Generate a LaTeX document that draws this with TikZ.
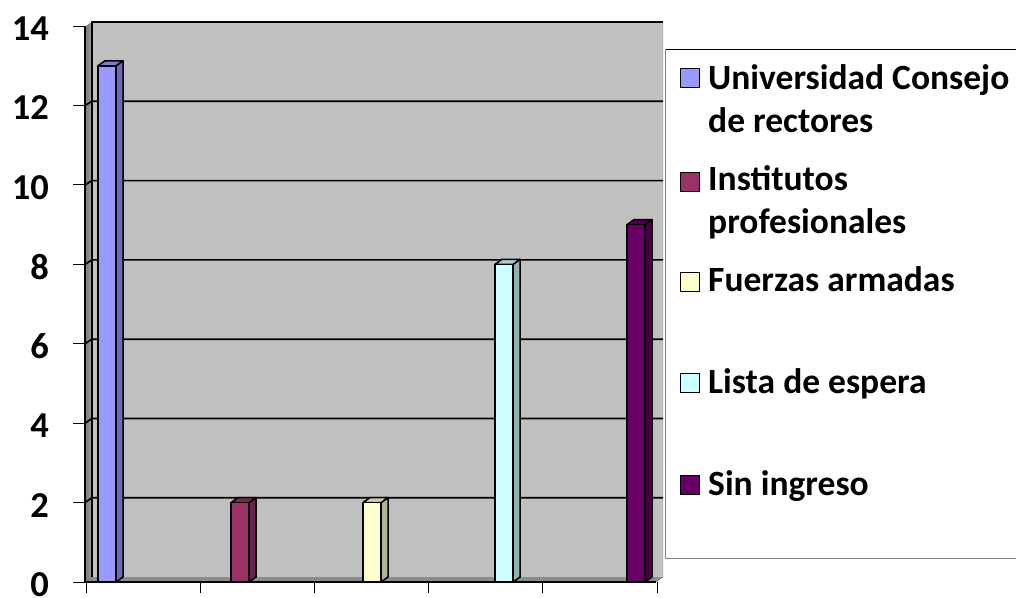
\documentclass[tikz,border=0pt]{standalone}
\usepackage{fontspec}
\setmainfont{Carlito}
\definecolor{wallgray}{HTML}{C0C0C0}
\definecolor{sidegray}{HTML}{9A9A9A}
\definecolor{floorgray}{HTML}{8C8C8C}
\definecolor{serA}{HTML}{9999FF}
\definecolor{serAside}{HTML}{6A6AB5}
\definecolor{serB}{HTML}{993366}
\definecolor{serBside}{HTML}{6B2447}
\definecolor{serC}{HTML}{FFFFCC}
\definecolor{serCside}{HTML}{B3B38F}
\definecolor{serD}{HTML}{CCFFFF}
\definecolor{serDside}{HTML}{8FB3B3}
\definecolor{serE}{HTML}{660066}
\definecolor{serEside}{HTML}{470047}
\tikzset{
  legbox/.style={draw=black,line width=1.6pt,minimum size=19pt,inner sep=0pt},
  legtext/.style={anchor=base west,align=left,inner sep=0pt,
    font=\fontsize{35.5}{43}\selectfont\bfseries},
  ylab/.style={anchor=east,inner sep=0pt,font=\fontsize{36.5}{36}\selectfont\bfseries},
  barline/.style={draw=black,line width=1.5pt,line join=round},
  gridline/.style={line width=1.7pt},
}
\begin{document}
\begin{tikzpicture}[x=1pt,y=-1pt]
  \useasboundingbox (0,0) rectangle (1016,597);
  % walls and floor
  \fill[floorgray] (85,582) -- (656,582) -- (663,577) -- (92,577) -- cycle;
  \fill[left color=sidegray!80!black,right color=sidegray] (85,582) -- (85,27) -- (92,22) -- (92,577) -- cycle;
  \fill[wallgray] (92,22) rectangle (663,577);
  \draw[gray] (663,22) -- (663,577) -- (656,582);
  \draw[gridline] (92,577) -- (92,22) -- (663,22);
  % grid lines
  \foreach \v in {2,4,...,12} {
    \pgfmathsetmacro{\yf}{582-39.71*\v}
    \pgfmathsetmacro{\yb}{577-39.64*\v}
    \draw[gridline] (85,\yf) -- (92,\yb) -- (663,\yb);
  }
  % axes, ticks and labels
  \draw[gridline] (85,26) -- (85,582) -- (656,582);
  \foreach \v in {0,2,...,14} {
    \pgfmathsetmacro{\yf}{582-39.71*\v}
    \draw[line width=1pt] (73,\yf) -- (85,\yf);
    \node[ylab] (ylab\v) at (49,\yf+2.5) {\v};
  }
  \foreach \k in {0,...,5} {
    \draw[line width=1pt] (86+114.2*\k,582) -- (86+114.2*\k,593);
  }
  % bars: x/value/front/side
  \foreach \x/\v/\c/\s in {98/13/serA/serAside,231/2/serB/serBside,363/2/serC/serCside,
                           495/8/serD/serDside,627/9/serE/serEside} {
    \pgfmathsetmacro{\yt}{582-39.71*\v}
    \filldraw[barline,fill=\s] (\x+18,\yt) -- (\x+25,\yt-5) -- (\x+25,577) -- (\x+18,582) -- cycle;
    \filldraw[barline,fill=\s!60!\c] (\x,\yt) -- (\x+7,\yt-5) -- (\x+25,\yt-5) -- (\x+18,\yt) -- cycle;
    \filldraw[barline,fill=\c] (\x,\yt) rectangle (\x+18,582);
  }
  % legend (base anchor = last line)
  \draw (665,49) -- (1016,49);
  \draw[gray] (665,49) -- (665,558) -- (1016,558);
  \foreach \i/\cy/\by/\c/\t in {1/78/132/serA/{Universidad Consejo\\de rectores},
                                2/182/233/serB/{Institutos\\profesionales},
                                3/282/291/serC/{Fuerzas armadas},
                                4/383/393/serD/{Lista de espera},
                                5/485/495/serE/{Sin ingreso}} {
    \node[legbox,fill=\c] (key\i) at (690,\cy) {};
    \node[legtext] (lab\i) at (708,\by) {\t};
  }
\end{tikzpicture}
\end{document}
